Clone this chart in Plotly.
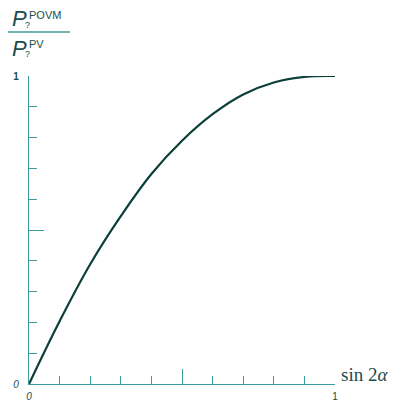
import plotly.graph_objects as go

# data
x_vals = [0, 0.1, 0.2, 0.3, 0.4, 0.5, 0.6, 0.7, 0.8, 0.9, 1.0]
y_vals = [0, 0.204, 0.389, 0.545, 0.682, 0.790, 0.876, 0.940, 0.979, 0.997, 1.0]
tick_vals = [0, 0.5, 1]
x_tick_text = ["<i>0</i>", "", "1"]
y_tick_text = ["<i>0</i>", "", "<b>1</b>"]

# the page body has an 8px margin, so the figure is drawn 8px in from the window edge
OFF = 8
W, H = 396 - OFF, 404 - OFF
X0, X1, Y0, Y1 = 29, 335, 76, 384  # plot area in window pixels
L, R, T, B = X0 - OFF, W - (X1 - OFF), Y0 - OFF, H - (Y1 - OFF)
PW, PH = W - L - R, H - T - B

def px(x):
    return (x - X0) / PW

def py(y):
    return (Y1 - y) / PH

AX = "#3f9c9c"
TXT = "#1d4c4c"

fig = go.Figure()
fig.add_trace(go.Scatter(x=x_vals, y=y_vals, mode="lines",
                         line=dict(color="#0b3f3a", width=2.2, shape="spline", smoothing=1.1),
                         hoverinfo="skip", cliponaxis=False))

axis_common = dict(range=[0, 1], showgrid=False, zeroline=False, showline=True, automargin=False,
                   linecolor=AX, linewidth=1.2, ticks="inside", ticklen=15, tickwidth=1.2,
                   tickcolor=AX, tickvals=tick_vals, fixedrange=True,
                   tickfont=dict(family="Liberation Sans", size=10, color=TXT),
                   minor=dict(dtick=0.1, tick0=0, ticks="inside", ticklen=8, tickwidth=1.2, tickcolor=AX))
fig.update_xaxes(**axis_common, ticktext=x_tick_text, ticklabelstandoff=3)
fig.update_yaxes(**axis_common, ticktext=y_tick_text, ticklabelstandoff=7)

ann = []
def add(text, x, y, size, family="Liberation Sans", xa="left", ya="middle"):
    ann.append(dict(text=text, x=px(x), y=py(y), xref="paper", yref="paper", showarrow=False,
                    xanchor=xa, yanchor=ya, font=dict(family=family, size=size, color=TXT)))

add("<i>P</i>", 10, 18, 22)
add("?", 23, 25, 9)
add("POVM", 27, 15, 11)
add("<i>P</i>", 10, 48, 22)
add("?", 23, 54, 9)
add("PV", 27, 44, 11)
add("sin 2<i>α</i>", 390, 374, 19, family="Liberation Serif", xa="right")

fig.update_layout(
    width=W, height=H, margin=dict(l=L, r=R, t=T, b=B),
    paper_bgcolor="white", plot_bgcolor="white", showlegend=False,
    annotations=ann,
    shapes=[dict(type="line", xref="paper", yref="paper", x0=px(8), x1=px(70), y0=py(32), y1=py(32),
                 line=dict(color=AX, width=1.5))],
)
fig.write_html("out.html")
